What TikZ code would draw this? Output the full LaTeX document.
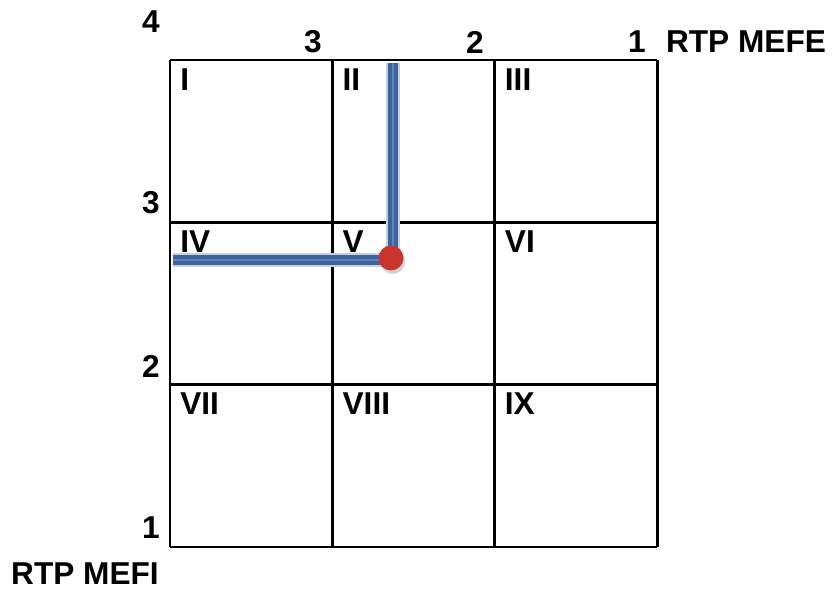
\documentclass[tikz,border=0pt]{standalone}
\usepackage{fontspec}
\setmainfont{Liberation Sans}
\usetikzlibrary{shadows}
\definecolor{barblue}{RGB}{62,100,158}
\definecolor{barlight}{RGB}{95,130,185}
\definecolor{dotred}{RGB}{200,52,46}
\begin{document}
\begin{tikzpicture}[x=0.02cm,y=-0.02cm,
  lbl/.style={font=\fontsize{18}{20}\selectfont\bfseries, inner sep=0pt},
  bar/.style={line width=6.2pt, barblue, line cap=butt}]
\useasboundingbox (0,0) rectangle (832,591);
\foreach \x in {170,332.3,494.7,657} \draw[line width=1.7pt] (\x,60) -- (\x,547);
\foreach \y in {60,222.3,384.7,547} \draw[line width=1.7pt] (170,\y) -- (657,\y);
\foreach \t [count=\i from 0] in {I,II,III,IV,V,VI,VII,VIII,IX} {
  \pgfmathsetmacro\cx{170+mod(\i,3)*162.3+10}
  \pgfmathsetmacro\cy{60+int(\i/3)*162.3+8}
  \node[lbl, anchor=north west] (c\i) at (\cx,\cy) {\t};
}
\node[lbl] (t4) at (151,22) {4};
\node[lbl] (t3) at (313,42) {3};
\node[lbl] (t2) at (475,42) {2};
\node[lbl] (t1) at (637,42) {1};
\node[lbl] (mefe) at (746,42) {RTP MEFE};
\node[lbl] (l3) at (151,203) {3};
\node[lbl] (l2) at (151,366) {2};
\node[lbl] (l1) at (151,528) {1};
\node[lbl] (mefi) at (85,574) {RTP MEFI};
% blue bars to the point
\coordinate (vtop) at (393,63);
\coordinate (hleft) at (173,260);
\node[circle, inner sep=0pt, minimum size=0.5cm] (dot) at (391,258) {};
\draw[bar, line width=7.6pt, barblue!30] (vtop) -- (vtop |- dot) (hleft) -- (hleft -| dot);
\draw[bar] (vtop) -- (vtop |- dot) (hleft) -- (hleft -| dot);
\draw[line width=0.6pt, barlight] (vtop) -- (vtop |- dot) (hleft) -- (hleft -| dot);
\fill[dotred, drop shadow={opacity=0.35, shadow xshift=1pt, shadow yshift=-2pt}] (dot.center) circle (0.25cm);
\end{tikzpicture}
\end{document}
